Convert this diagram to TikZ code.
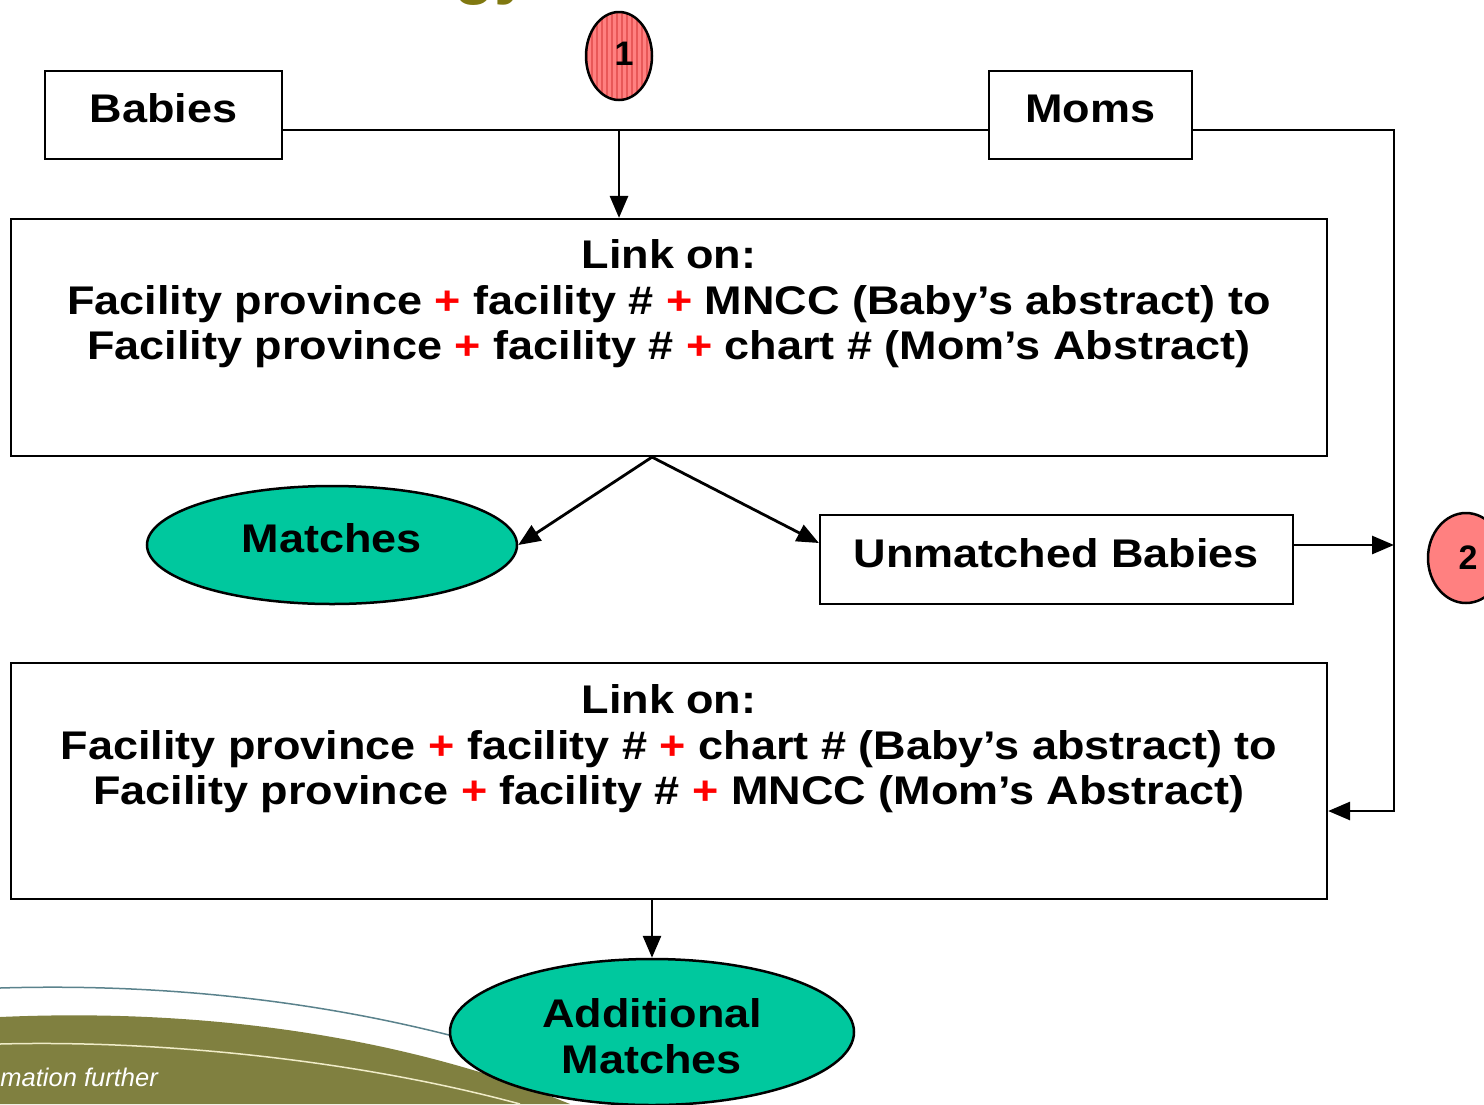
\documentclass[tikz,border=0pt]{standalone}
\usepackage{fontspec}
\setmainfont{Liberation Sans}[FakeStretch=1.125]
\newfontfamily\plainsans{Liberation Sans}
\usetikzlibrary{arrows.meta,shapes.geometric}
\definecolor{tealfill}{RGB}{0,200,158}
\definecolor{salmonfill}{RGB}{255,128,128}
\definecolor{stripecol}{RGB}{232,88,88}
\definecolor{olivefill}{RGB}{128,128,64}
\definecolor{titlecol}{RGB}{128,120,16}
\definecolor{swline}{RGB}{90,130,140}
\definecolor{creamline}{RGB}{240,236,200}
\definecolor{plusred}{RGB}{255,0,0}
\newcommand{\pl}{\textcolor{plusred}{+}}
\begin{document}
\begin{tikzpicture}[x=1pt,y=-1pt,
  big/.style={font=\fontsize{40}{45.5}\selectfont\bfseries},
  numfont/.style={font=\plainsans\fontsize{34}{34}\selectfont\bfseries},
  box/.style={draw,line width=2.2pt,rectangle,inner sep=0},
  oval/.style={draw,line width=2.5pt,ellipse,fill=tealfill,inner sep=0},
  conn/.style={line width=2.8pt},
  arr/.style={conn,-{Triangle[length=22pt,width=18pt]}},
  lifted/.style={text height=29pt,text depth=14pt}]
\useasboundingbox (0,0) rectangle (1484,1104);
\begin{scope}
\clip (0,0) rectangle (1484,1104);
% decorative swoosh
\fill[olivefill] (0,1017) .. controls (200,1008) and (400,1035) .. (570,1104) -- (0,1104) -- cycle;
\draw[swline,line width=1.5pt] (0,988) .. controls (200,982) and (400,1010) .. (580,1075);
\draw[creamline,line width=1.5pt] (0,1044) .. controls (150,1040) and (350,1058) .. (520,1104);
\node[anchor=base east,font=\plainsans\itshape\fontsize{25.5}{25.5}\selectfont,text=white,inner sep=0] (sw) at (158,1086) {mation further};
% title remnant
\node[anchor=base west,font=\plainsans\fontsize{66}{66}\selectfont\bfseries,text=titlecol,inner sep=0] (title) at (454,-9) {gy};
% circle 1
\fill[salmonfill] (619,56) ellipse [x radius=33, y radius=44];
\begin{scope}
\clip (619,56) ellipse [x radius=33, y radius=44];
\foreach \x in {587,592,...,652} \draw[stripecol,line width=1.2pt] (\x,10) -- (\x,102);
\end{scope}
\node[draw,ellipse,line width=2.5pt,minimum width=66pt,minimum height=88pt,inner sep=0] (c1) at (619,56) {};
\node[numfont,inner sep=0] (n1) at (624,54) {1};
% circle 2
\node[draw,ellipse,line width=2.5pt,fill=salmonfill,minimum width=76pt,minimum height=90pt,inner sep=0,numfont] (c2) at (1466,558) {\hspace*{4pt}2};
% boxes
\node[box,lifted,big,minimum width=237pt,minimum height=88pt] (babies) at (163.5,115) {Babies};
\node[box,lifted,big,minimum width=203pt,minimum height=88pt] (moms) at (1090.5,115) {Moms};
\node[box,minimum width=1316pt,minimum height=237pt] (link1) at (669,337.5) {};
\node[big,align=center,inner sep=0] (t1) at (669,304) {Link on:\\Facility province \pl{} facility \# \pl{} MNCC (Baby’s abstract) to\\Facility province \pl{} facility \# \pl{} chart \# (Mom’s Abstract)};
\node[box,minimum width=1316pt,minimum height=236pt] (link2) at (669,781) {};
\node[big,align=center,inner sep=0] (t2) at (669,749) {Link on:\\Facility province \pl{} facility \# \pl{} chart \# (Baby’s abstract) to\\Facility province \pl{} facility \# \pl{} MNCC (Mom’s Abstract)};
\node[box,lifted,big,minimum width=473pt,minimum height=89pt] (unm) at (1056.5,559.5) {Unmatched Babies};
\node[oval,lifted,big,minimum width=370pt,minimum height=118pt] (matches) at (332,545) {Matches};
\node[oval,minimum width=404pt,minimum height=146pt] (addm) at (652,1032) {};
\node[big,align=center,inner sep=0] (addt) at (652,1036) {Additional\\Matches};
% connectors
\coordinate (j) at (619,130);
\coordinate (r) at (1394,130);
\draw[conn] ([yshift=-15pt]babies.east) -- ([yshift=-15pt]moms.west);
\draw[arr] (j) -- (j |- link1.north);
\draw[arr] ([yshift=-15pt]moms.east) -- (r) |- ([yshift=-30pt]link2.east);
\draw[arr] ([yshift=14.5pt]unm.east) -- ([yshift=14.5pt]unm.east -| r);
\coordinate (f) at ([xshift=-17pt]link1.south);
\draw[arr] (f) -- (matches.east);
\draw[arr] (f) -- ([yshift=16.5pt]unm.west);
\draw[arr] ([xshift=-17pt]link2.south) -- (addm.north);
\end{scope}
\end{tikzpicture}
\end{document}
